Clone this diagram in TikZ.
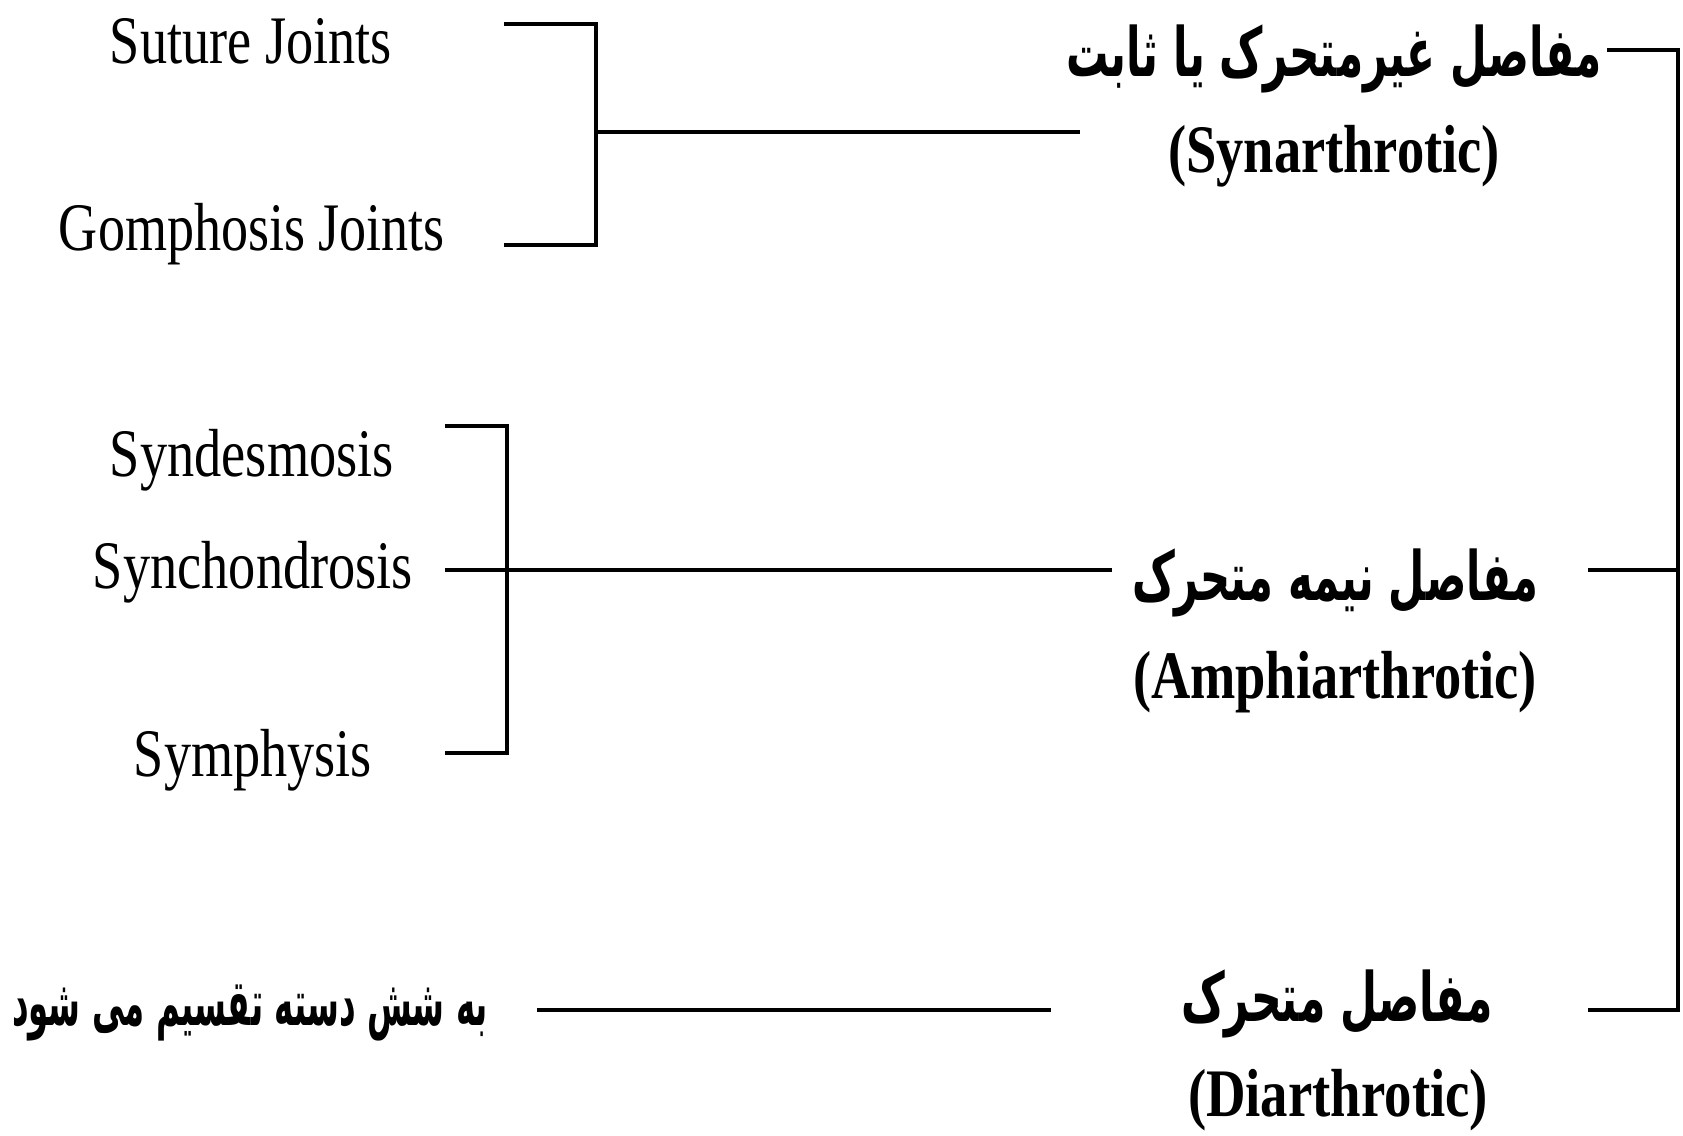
\documentclass[tikz,border=0pt]{standalone}
\usepackage{fontspec}
\usepackage{graphicx}
\setmainfont{Liberation Serif}
\newfontfamily\arabicfont[Script=Arabic]{DejaVu Sans}
\TeXXeTstate=1
\newcommand\fitw[2]{\resizebox{#1}{\height}{#2}}
\begin{document}
\begin{tikzpicture}[x=0.5pt,y=-0.5pt,
  conn/.style={line width=2pt, line join=miter, line cap=butt},
  en/.style={anchor=base, inner sep=0pt, font=\fontsize{34}{36}\selectfont},
  enb/.style={anchor=base, inner sep=0pt, font=\fontsize{34}{36}\selectfont\bfseries},
  ar/.style={anchor=base, inner sep=0pt, font=\fontsize{34}{36}\selectfont\arabicfont\bfseries},
  arl/.style={anchor=base, inner sep=0pt, font=\fontsize{32}{36}\selectfont\arabicfont\bfseries}]
\fill[white] (0,0) rectangle (1683,1136);
\useasboundingbox (0,0) rectangle (1683,1136);

% left column
\node[en] (sut) at (251,63)  {\fitw{141pt}{Suture Joints}};
\node[en] (gom) at (252,250) {\fitw{193pt}{Gomphosis Joints}};
\node[en] (syd) at (252,476) {\fitw{142pt}{Syndesmosis}};
\node[en] (syc) at (253,588) {\fitw{160pt}{Synchondrosis}};
\node[en] (sym) at (253,776) {\fitw{119pt}{Symphysis}};
\node[arl] (six) at (250,1025) {\fitw{238pt}{\beginR به شش دسته تقسیم می شود\endR}};

% right column
\node[ar]  (a1) at (1334,76)   {\fitw{268pt}{\beginR مفاصل غیرمتحرک یا ثابت\endR}};
\node[enb] (e1) at (1334,172)  {\fitw{166pt}{(Synarthrotic)}};
\node[ar]  (a2) at (1335,600)  {\fitw{203pt}{\beginR مفاصل نیمه متحرک\endR}};
\node[enb] (e2) at (1335,698)  {\fitw{202pt}{(Amphiarthrotic)}};
\node[ar]  (a3) at (1337,1021) {\fitw{156pt}{\beginR مفاصل متحرک\endR}};
\node[enb] (e3) at (1338,1116) {\fitw{150pt}{(Diarthrotic)}};

% top bracket
\coordinate (t1) at (504,24);  \coordinate (t2) at (596,24);
\coordinate (t3) at (596,245); \coordinate (t4) at (504,245);
\coordinate (tm) at (596,132); \coordinate (te) at (1080,132);
\draw[conn] (t1) -- (t2) -- (t3) -- (t4);
\draw[conn] (tm) -- (te);

% middle bracket
\coordinate (m1) at (445,426); \coordinate (m2) at (507,426);
\coordinate (m3) at (507,753); \coordinate (m4) at (445,753);
\coordinate (ms) at (445,570); \coordinate (me) at (1112,570);
\draw[conn] (m1) -- (m2) -- (m3) -- (m4);
\draw[conn] (ms) -- (me);

% bottom line
\coordinate (bs) at (537,1010); \coordinate (be) at (1051,1010);
\draw[conn] (bs) -- (be);

% right bracket
\coordinate (r1) at (1607,50);  \coordinate (r2) at (1678,50);
\coordinate (r3) at (1678,1010); \coordinate (r4) at (1588,1010);
\coordinate (rm) at (1588,570); \coordinate (rv) at (1678,570);
\draw[conn] (r1) -- (r2) -- (r3) -- (r4);
\draw[conn] (rm) -- (rv);
\end{tikzpicture}
\end{document}
